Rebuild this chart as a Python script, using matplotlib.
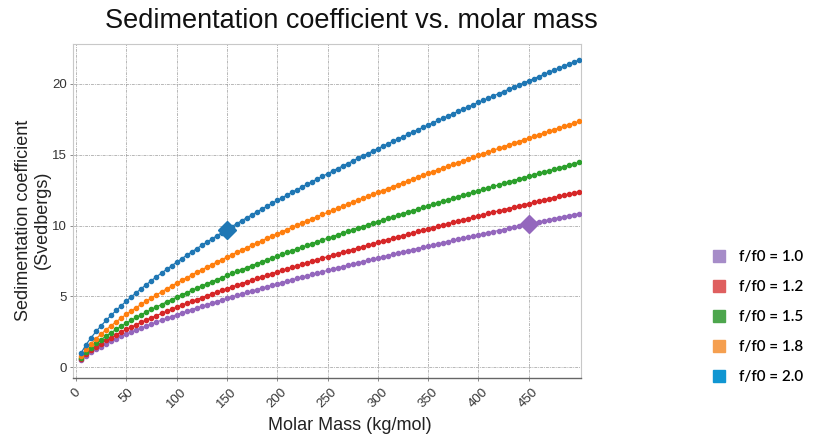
import numpy as np
import matplotlib
matplotlib.use("Agg")
import matplotlib.pyplot as plt
from matplotlib.lines import Line2D

# ---------------- data ----------------
molar_mass = np.arange(5, 505, 5)  # kg/mol, one point every 5 kg/mol

s_purple = [0.50, 0.80, 1.05, 1.27, 1.47, 1.66, 1.84, 2.01, 2.18, 2.33,
            2.49, 2.64, 2.78, 2.92, 3.06, 3.19, 3.33, 3.45, 3.58, 3.71,
            3.83, 3.95, 4.07, 4.19, 4.30, 4.41, 4.53, 4.64, 4.75, 4.86,
            4.96, 5.07, 5.17, 5.28, 5.38, 5.48, 5.59, 5.69, 5.78, 5.88,
            5.98, 6.08, 6.17, 6.27, 6.36, 6.46, 6.55, 6.64, 6.74, 6.83,
            6.92, 7.01, 7.10, 7.19, 7.27, 7.36, 7.45, 7.54, 7.62, 7.71,
            7.79, 7.88, 7.96, 8.05, 8.13, 8.21, 8.30, 8.38, 8.46, 8.54,
            8.62, 8.71, 8.79, 8.87, 8.95, 9.02, 9.10, 9.18, 9.26, 9.34,
            9.42, 9.49, 9.57, 9.65, 9.72, 9.80, 9.88, 9.95, 10.03, 10.10,
            10.18, 10.25, 10.33, 10.40, 10.47, 10.55, 10.62, 10.69, 10.76, 10.84]

s_red = [0.57, 0.91, 1.20, 1.45, 1.68, 1.90, 2.10, 2.30, 2.49, 2.67,
         2.84, 3.01, 3.18, 3.34, 3.50, 3.65, 3.80, 3.95, 4.09, 4.24,
         4.38, 4.51, 4.65, 4.78, 4.91, 5.05, 5.17, 5.30, 5.43, 5.55,
         5.67, 5.79, 5.91, 6.03, 6.15, 6.27, 6.38, 6.50, 6.61, 6.72,
         6.84, 6.95, 7.06, 7.16, 7.27, 7.38, 7.49, 7.59, 7.70, 7.80,
         7.91, 8.01, 8.11, 8.21, 8.31, 8.41, 8.51, 8.61, 8.71, 8.81,
         8.91, 9.01, 9.10, 9.20, 9.29, 9.39, 9.48, 9.58, 9.67, 9.76,
         9.86, 9.95, 10.04, 10.13, 10.22, 10.31, 10.40, 10.49, 10.58, 10.67,
         10.76, 10.85, 10.94, 11.03, 11.11, 11.20, 11.29, 11.37, 11.46, 11.54,
         11.63, 11.72, 11.80, 11.88, 11.97, 12.05, 12.14, 12.22, 12.30, 12.38]

s_green = [0.67, 1.06, 1.40, 1.69, 1.96, 2.21, 2.45, 2.68, 2.90, 3.11,
           3.32, 3.52, 3.71, 3.90, 4.08, 4.26, 4.43, 4.61, 4.78, 4.94,
           5.10, 5.27, 5.42, 5.58, 5.73, 5.89, 6.04, 6.18, 6.33, 6.48,
           6.62, 6.76, 6.90, 7.04, 7.18, 7.31, 7.45, 7.58, 7.71, 7.84,
           7.97, 8.10, 8.23, 8.36, 8.48, 8.61, 8.73, 8.86, 8.98, 9.10,
           9.22, 9.34, 9.46, 9.58, 9.70, 9.82, 9.93, 10.05, 10.16, 10.28,
           10.39, 10.51, 10.62, 10.73, 10.84, 10.95, 11.06, 11.17, 11.28, 11.39,
           11.50, 11.61, 11.71, 11.82, 11.93, 12.03, 12.14, 12.24, 12.35, 12.45,
           12.56, 12.66, 12.76, 12.86, 12.97, 13.07, 13.17, 13.27, 13.37, 13.47,
           13.57, 13.67, 13.77, 13.86, 13.96, 14.06, 14.16, 14.26, 14.35, 14.45]

s_orange = [0.80, 1.28, 1.67, 2.03, 2.35, 2.66, 2.94, 3.22, 3.48, 3.74,
            3.98, 4.22, 4.45, 4.67, 4.89, 5.11, 5.32, 5.53, 5.73, 5.93,
            6.13, 6.32, 6.51, 6.70, 6.88, 7.06, 7.24, 7.42, 7.60, 7.77,
            7.94, 8.11, 8.28, 8.45, 8.61, 8.77, 8.94, 9.10, 9.26, 9.41,
            9.57, 9.72, 9.88, 10.03, 10.18, 10.33, 10.48, 10.63, 10.78, 10.92,
            11.07, 11.21, 11.36, 11.50, 11.64, 11.78, 11.92, 12.06, 12.20, 12.33,
            12.47, 12.61, 12.74, 12.88, 13.01, 13.14, 13.28, 13.41, 13.54, 13.67,
            13.80, 13.93, 14.06, 14.19, 14.31, 14.44, 14.57, 14.69, 14.82, 14.94,
            15.07, 15.19, 15.31, 15.44, 15.56, 15.68, 15.80, 15.92, 16.04, 16.16,
            16.28, 16.40, 16.52, 16.64, 16.76, 16.87, 16.99, 17.11, 17.22, 17.34]

s_blue = [1.01, 1.60, 2.09, 2.54, 2.94, 3.32, 3.68, 4.02, 4.35, 4.67,
          4.98, 5.27, 5.56, 5.84, 6.12, 6.39, 6.65, 6.91, 7.16, 7.41,
          7.66, 7.90, 8.14, 8.37, 8.60, 8.83, 9.05, 9.28, 9.50, 9.71,
          9.93, 10.14, 10.35, 10.56, 10.76, 10.97, 11.17, 11.37, 11.57, 11.77,
          11.96, 12.16, 12.35, 12.54, 12.73, 12.92, 13.10, 13.29, 13.47, 13.65,
          13.83, 14.02, 14.19, 14.37, 14.55, 14.73, 14.90, 15.07, 15.25, 15.42,
          15.59, 15.76, 15.93, 16.10, 16.26, 16.43, 16.59, 16.76, 16.92, 17.09,
          17.25, 17.41, 17.57, 17.73, 17.89, 18.05, 18.21, 18.37, 18.52, 18.68,
          18.83, 18.99, 19.14, 19.30, 19.45, 19.60, 19.75, 19.90, 20.05, 20.20,
          20.35, 20.50, 20.65, 20.80, 20.95, 21.09, 21.24, 21.38, 21.53, 21.67]

legend_labels = ["f/f0 = 1.0", "f/f0 = 1.2", "f/f0 = 1.5", "f/f0 = 1.8", "f/f0 = 2.0"]
series = [s_purple, s_red, s_green, s_orange, s_blue]
line_colors = ["#9467bd", "#d62728", "#2ca02c", "#ff7f0e", "#1f77b4"]
legend_colors = ["#a68cc8", "#df5f5f", "#4da64d", "#f59f4f", "#1096d2"]

# highlighted points: (mass, series index)
highlight_mass = [150, 450]
highlight_series = [4, 0]

xticks = [0, 50, 100, 150, 200, 250, 300, 350, 400, 450]
yticks = [0, 5, 10, 15, 20]

# ---------------- figure ----------------
fig = plt.figure(figsize=(8.21, 4.37), dpi=100)
ax = fig.add_axes([73/821, 1 - 378/437, 508/821, 334/437])

for vals, c in zip(series, line_colors):
    ax.plot(molar_mass, vals, color=c, marker="o", markersize=3.0,
            linewidth=0.9, zorder=3)

for m, si in zip(highlight_mass, highlight_series):
    idx = list(molar_mass).index(m)
    ax.plot([m], [series[si][idx]], marker="D", markersize=9,
            color=line_colors[si], linestyle="none", zorder=5)

ax.set_xlim(-3, 502)
ax.set_ylim(-0.75, 22.8)
ax.set_xticks(xticks)
ax.set_yticks(yticks)
ax.grid(True, color="#a0a0a0", linestyle=(0, (3, 1, 1, 1)), linewidth=0.7, alpha=0.75)
ax.set_axisbelow(True)

for side in ["top", "right", "left"]:
    ax.spines[side].set_color("#c8c8c8")
    ax.spines[side].set_linewidth(0.8)
ax.spines["bottom"].set_color("#666666")
ax.spines["bottom"].set_linewidth(1.0)

ax.tick_params(axis="both", colors="#777777", labelcolor="#333333",
               labelsize=9.5, length=2.5, width=0.6)
ax.tick_params(axis="y", pad=2)
for lab in ax.get_xticklabels():
    lab.set_rotation(45)
    lab.set_fontfamily("Liberation Sans")
for lab in ax.get_yticklabels():
    lab.set_fontfamily("Liberation Sans")

ax.set_xlabel("Molar Mass (kg/mol)", fontsize=13, family="Liberation Sans",
              color="#222222")
ax.xaxis.set_label_coords((350 - 73) / 508, -(425 - 378) / 334)
ax.xaxis.label.set_va("center")
ax.set_ylabel("Sedimentation coefficient\n(Svedbergs)", fontsize=13,
              family="Liberation Sans", color="#222222")
ax.yaxis.set_label_coords(-(73 - 33) / 508, (378 - 220) / 334)
ax.yaxis.label.set_va("center")

fig.text(351/821, 1 - 21/437, "Sedimentation coefficient vs. molar mass",
         ha="center", va="center", fontsize=19.5, family="Liberation Sans",
         color="#111111")

handles = [Line2D([0], [0], marker="s", linestyle="none", markersize=8,
                  markerfacecolor=c, markeredgecolor=c) for c in legend_colors]
fig.legend(handles, legend_labels, loc="center left",
           bbox_to_anchor=(0.85, 1 - 317/437), frameon=False,
           prop={"family": "Lato", "size": 11, "weight": 600},
           labelspacing=1.05, handletextpad=0.8, handlelength=1.0)

fig.savefig("out.png", dpi=100)
